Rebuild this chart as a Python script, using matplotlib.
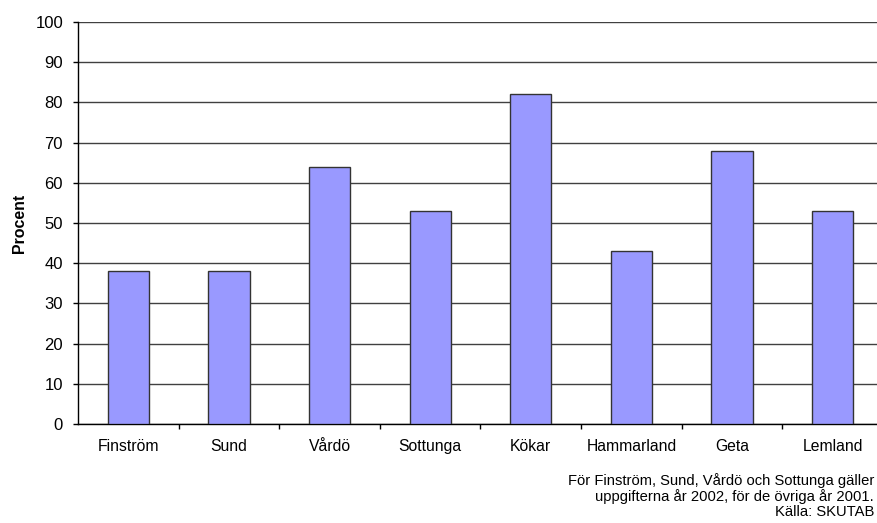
import matplotlib.pyplot as plt
import numpy as np

plt.rcParams['font.family'] = ['Liberation Sans', 'DejaVu Sans']

kommuner = ['Finström', 'Sund', 'Vårdö', 'Sottunga', 'Kökar', 'Hammarland', 'Geta', 'Lemland']
procent = [38, 38, 64, 53, 82, 43, 68, 53]
y_ticks = list(range(0, 101, 10))
note = ('För Finström, Sund, Vårdö och Sottunga gäller\n'
        'uppgifterna år 2002, för de övriga år 2001.\n'
        'Källa: SKUTAB')

fig = plt.figure(figsize=(8.78, 5.23), dpi=100)
ax = fig.add_axes([78 / 878, 99 / 523, 805 / 878, 402 / 523])

x = np.arange(len(kommuner))
ax.set_axisbelow(True)
ax.yaxis.grid(True, color='#404040', linewidth=1)
ax.bar(x, procent, width=0.41, color='#9999ff', edgecolor='#333333', linewidth=1, zorder=3)

ax.set_xlim(-0.5, len(kommuner) - 0.5)
ax.set_ylim(0, 100)
ax.set_yticks(y_ticks)
ax.tick_params(axis='y', labelsize=12, length=3.75, width=1, pad=7)

# category labels centred, tick marks between categories
ax.set_xticks(x)
ax.set_xticklabels(kommuner, fontsize=11.3)
ax.tick_params(axis='x', which='major', length=0, pad=11)
ax.set_xticks(np.arange(0.5, len(kommuner) - 0.5), minor=True)
ax.tick_params(axis='x', which='minor', length=3.75, width=1, direction='out')

for side in ['top', 'right']:
    ax.spines[side].set_visible(False)
for side in ['left', 'bottom']:
    ax.spines[side].set_linewidth(1)

ax.set_ylabel('Procent', fontsize=11.4, fontweight='bold', labelpad=6)

fig.text(874 / 878, 1 - 473 / 523, note, ha='right', va='top', fontsize=10.6, linespacing=1.1)

fig.savefig('out.png', dpi=100)
